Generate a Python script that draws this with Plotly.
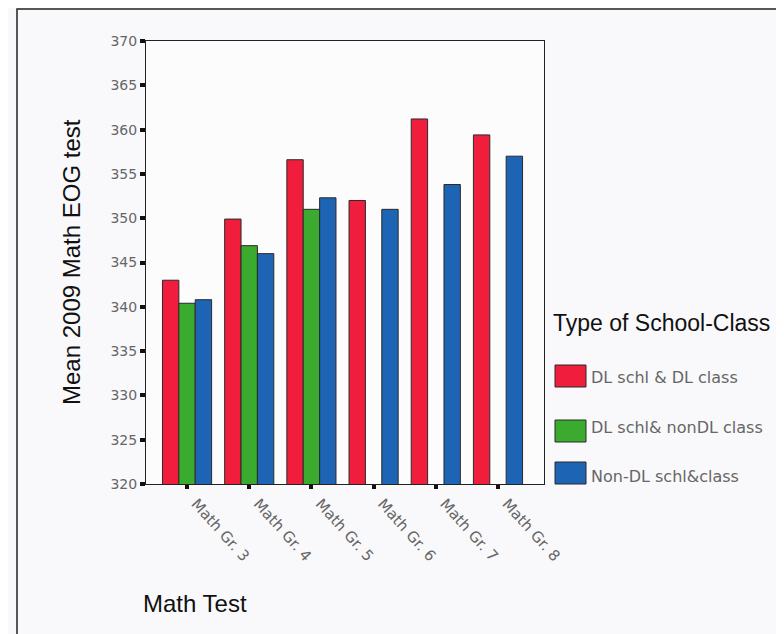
import plotly.graph_objects as go

categories = ["Math Gr. 3", "Math Gr. 4", "Math Gr. 5", "Math Gr. 6", "Math Gr. 7", "Math Gr. 8"]
series_names = ["DL schl & DL class", "DL schl& nonDL class", "Non-DL schl&class"]
dl_dl = [343.0, 349.9, 356.6, 352.0, 361.2, 359.4]
dl_nondl = [340.4, 346.9, 351.0, None, None, None]
nondl = [340.8, 346.0, 352.3, 351.0, 353.8, 357.0]
series_values = [dl_dl, dl_nondl, nondl]
colors = ["#f01e3c", "#3aab2e", "#1e64b4"]
y_ticks = [320, 325, 330, 335, 340, 345, 350, 355, 360, 365, 370]

# page offset (browser body margin)
OFF = 8
SW, SH = 784, 634
# plot area in screen pixels
PX0, PX1, PY0, PY1 = 146, 544, 41, 484
W, H = SW - OFF, SH - OFF
L, T = PX0 - OFF, PY0 - OFF
R, B = SW - PX1, SH - PY1
PW, PH = PX1 - PX0, PY1 - PY0


def px(x):
    return (x - PX0) / PW


def py(y):
    return (PY1 - y) / PH


FONT = "Liberation Sans, Arial, sans-serif"
SMALL = "DejaVu Sans, sans-serif"

fig = go.Figure()
for name, vals, col in zip(series_names, series_values, colors):
    fig.add_trace(go.Bar(
        x=categories, y=vals, name=name, showlegend=False,
        marker=dict(color=col, line=dict(color="#2a2a2a", width=1)),
    ))

shapes = [
    dict(type="rect", xref="paper", yref="paper",
         x0=px(17), x1=px(800), y0=py(660), y1=py(9),
         line=dict(color="#222", width=1.5), fillcolor="rgba(0,0,0,0)", layer="below"),
]
annotations = [
    dict(text="Mean 2009 Math EOG test", xref="paper", yref="paper",
         x=px(71), y=py(262), textangle=-90, showarrow=False,
         font=dict(family=FONT, size=24, color="#111"), xanchor="center", yanchor="middle"),
    dict(text="Math Test", xref="paper", yref="paper",
         x=px(141), y=py(603), showarrow=False,
         font=dict(family=FONT, size=24, color="#111"), xanchor="left", yanchor="middle"),
    dict(text="Type of School-Class", xref="paper", yref="paper",
         x=px(551), y=py(323), showarrow=False,
         font=dict(family=FONT, size=23, color="#111"), xanchor="left", yanchor="middle"),
]
item_tops = [365, 420, 462]
item_text_y = [377, 427, 476]
for name, col, top, ty in zip(series_names, colors, item_tops, item_text_y):
    shapes.append(dict(type="rect", xref="paper", yref="paper",
                       x0=px(555), x1=px(586), y0=py(top + 22), y1=py(top),
                       fillcolor=col, line=dict(color="#2a2a2a", width=1)))
    annotations.append(dict(text=name, xref="paper", yref="paper",
                            x=px(589), y=py(ty), showarrow=False,
                            font=dict(family=SMALL, size=16, color="#666"),
                            xanchor="left", yanchor="middle"))

fig.update_layout(
    width=W, height=H,
    margin=dict(l=L, r=R, t=T, b=B, pad=0),
    paper_bgcolor="#f9f9fb", plot_bgcolor="#fcfcfd",
    barmode="group", bargap=0.21, bargroupgap=0,
    shapes=shapes, annotations=annotations,
    showlegend=False,
)
fig.update_xaxes(
    type="category", range=[-0.66, 5.74],
    showline=True, linecolor="#222", linewidth=1, mirror=True,
    ticks="outside", ticklen=4, tickwidth=4, tickcolor="#111",
    tickangle=48, tickfont=dict(family=SMALL, size=15, color="#666"),
    ticklabelshift=9,
    showgrid=False,
)
fig.update_yaxes(
    range=[320, 370], tickvals=y_ticks,
    showline=True, linecolor="#222", linewidth=1, mirror=True,
    ticks="outside", ticklen=5, tickwidth=4, tickcolor="#111",
    tickfont=dict(family=SMALL, size=14, color="#666"),
    showgrid=False, zeroline=False,
)

fig.write_html("out.html")
